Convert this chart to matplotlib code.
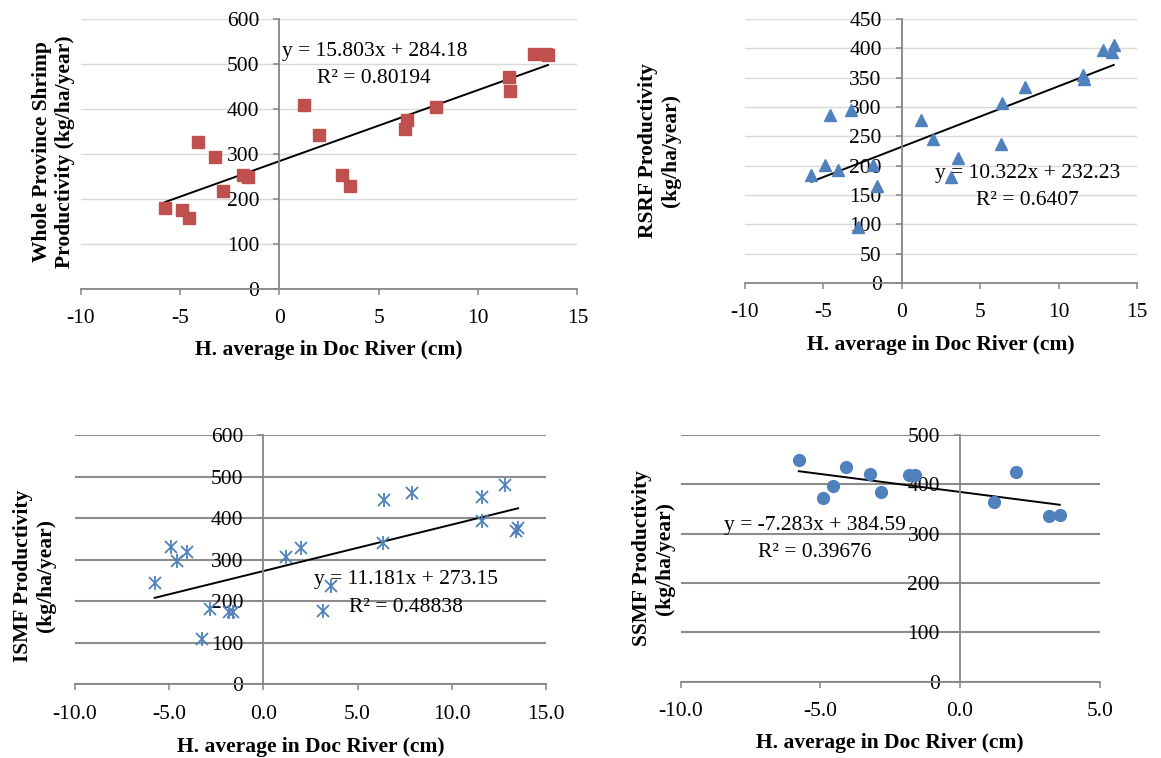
import matplotlib
matplotlib.use('Agg')
import matplotlib.pyplot as plt
import numpy as np
from matplotlib.ticker import FormatStrFormatter, MultipleLocator

plt.rcParams['font.family'] = ['Liberation Serif', 'DejaVu Serif']
plt.rcParams['font.size'] = 15.5
plt.rcParams['axes.unicode_minus'] = False

# H. average in Doc River (cm), one value per year
h_avg = np.array([-5.77, -4.92, -4.56, -4.08, -3.24, -2.82, -1.84, -1.60, 1.22, 2.00,
                  3.17, 3.57, 6.33, 6.41, 7.89, 11.58, 11.60, 12.83, 13.42, 13.52])

# productivity (kg/ha/year)
whole_prov = np.array([181, 176, 158, 326, 293, 218, 254, 250, 410, 342,
                       254, 230, 356, 376, 405, 471, 440, 523, 522, 521])
rsrf = np.array([184, 201, 287, 192, 295, 96, 202, 165, 278, 245,
                 180, 213, 237, 307, 334, 355, 347, 398, 393, 406])
ismf = np.array([244, 332, 298, 318, 109, 181, 174, 174, 308, 328,
                 177, 237, 340, 444, 462, 452, 394, 480, 370, 378])
ssmf = np.array([450, 373, 397, 435, 420, 385, 419, 419, 364, 425, 335, 337])

# trendline equations as printed on the chart
fits = {
    'whole': (15.803, 284.18, '0.80194'),
    'rsrf': (10.322, 232.23, '0.6407'),
    'ismf': (11.181, 273.15, '0.48838'),
    'ssmf': (-7.283, 384.59, '0.39676'),
}

AX_COL = '#868686'
BLUE = '#4f81bd'
RED = '#c0504d'

fig = plt.figure(figsize=(11.61, 7.58), dpi=100)


def setup(rect, xlim, ylim, ystep, xfmt, grid_col, grid_lw):
    ax = fig.add_axes(rect)
    ax.set_xlim(*xlim)
    ax.set_ylim(*ylim)
    ax.xaxis.set_major_locator(MultipleLocator(5))
    ax.yaxis.set_major_locator(MultipleLocator(ystep))
    ax.xaxis.set_major_formatter(FormatStrFormatter(xfmt))
    ax.spines['left'].set_position(('data', 0))
    ax.spines['top'].set_visible(False)
    ax.spines['right'].set_visible(False)
    for s in ('left', 'bottom'):
        ax.spines[s].set_color(AX_COL)
        ax.spines[s].set_linewidth(1.3)
    ax.yaxis.grid(True, color=grid_col, lw=grid_lw)
    ax.set_axisbelow(True)
    ax.tick_params(axis='both', direction='out', length=4, width=1.1, color=AX_COL)
    ax.tick_params(axis='x', pad=10.5)
    ax.tick_params(axis='y', pad=10.5)
    ax.set_xlabel('H. average in Doc River (cm)', fontweight='bold', va='center')
    return ax


def trend(ax, x, key, tx, ty1, ty2):
    m, b, r2 = fits[key]
    xs = np.array([x.min(), x.max()])
    ax.plot(xs, m * xs + b, color='black', lw=1.4, zorder=2)
    sign = '+' if b >= 0 else '-'
    ax.text(tx, ty1, f'y = {m}x {sign} {abs(b)}', ha='center', va='center', zorder=4)
    ax.text(tx, ty2, f'R² = {r2}', ha='center', va='center', zorder=4)


# top left: whole province
ax1 = setup([0.0695, 0.6187, 0.4278, 0.3562], (-10, 15), (0, 600), 100, '%d', '#d9d9d9', 1.0)
ax1.plot(h_avg, whole_prov, 's', color=RED, ms=8.5, zorder=3)
trend(ax1, h_avg, 'whole', 4.78, 527, 468)
ax1.set_ylabel('Whole Province Shrimp\nProductivity (kg/ha/year)', fontweight='bold', va='center')
ax1.yaxis.set_label_coords(-0.054, 0.508)
ax1.xaxis.set_label_coords(0.5, -0.226)

# top right: RSRF
ax2 = setup([0.6417, 0.6266, 0.3376, 0.3483], (-10, 15), (0, 450), 50, '%d', '#d9d9d9', 1.0)
ax2.plot(h_avg, rsrf, '^', color=BLUE, ms=9, zorder=3)
trend(ax2, h_avg, 'rsrf', 8.0, 186, 140)
ax2.set_ylabel('RSRF Productivity\n(kg/ha/year)', fontweight='bold', va='center')
ax2.yaxis.set_label_coords(-0.219, 0.501)
ax2.xaxis.set_label_coords(0.5, -0.235)

# bottom left: ISMF
ax3 = setup([0.0646, 0.0970, 0.4057, 0.3287], (-10, 15), (0, 600), 100, '%.1f', '#8c8c8c', 1.5)
ax3.plot(h_avg, ismf, 'x', color=BLUE, ms=9, mew=1.3, zorder=3)
ax3.plot(h_avg, ismf, '|', color=BLUE, ms=10, mew=1.3, zorder=3)
trend(ax3, h_avg, 'ismf', 7.57, 252, 185)
ax3.set_ylabel('ISMF Productivity\n(kg/ha/year)', fontweight='bold', va='center')
ax3.yaxis.set_label_coords(-0.086, 0.437)
ax3.xaxis.set_label_coords(0.5, -0.25)

# bottom right: SSMF (12 years)
h_ss = h_avg[:len(ssmf)]
ax4 = setup([0.5863, 0.1007, 0.3609, 0.3254], (-10, 5), (0, 500), 100, '%.1f', '#8c8c8c', 1.5)
ax4.plot(h_ss, ssmf, 'o', color=BLUE, ms=8.5, zorder=3)
trend(ax4, h_ss, 'ssmf', -5.19, 316, 262)
ax4.set_ylabel('SSMF Productivity\n(kg/ha/year)', fontweight='bold', va='center')
ax4.yaxis.set_label_coords(-0.064, 0.50)
ax4.xaxis.set_label_coords(0.5, -0.25)

fig.savefig('out.png', dpi=100)
